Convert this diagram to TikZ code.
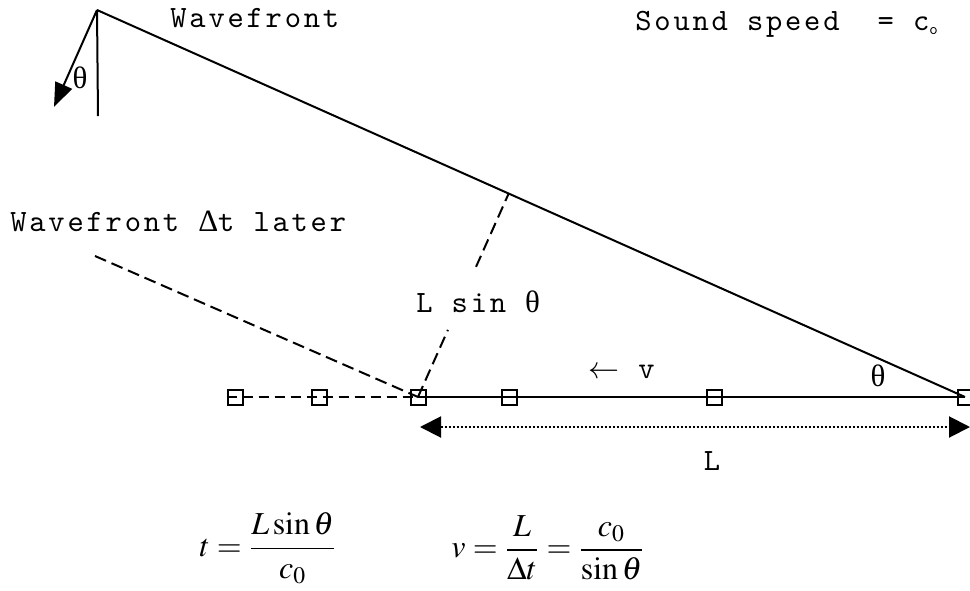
\documentclass[tikz,border=0pt]{standalone}
\usepackage{mathptmx}
\usepackage{fontspec}
\usetikzlibrary{arrows.meta,calc,positioning}
\newfontfamily\monofont[LetterSpace=9]{lmmono10-regular.otf}
\newfontfamily\seriffont{Liberation Serif}

\begin{document}
\begin{tikzpicture}[
    x=0.5pt,y=-0.5pt,
    every node/.style={inner sep=0pt},
    txt/.style={font=\monofont\fontsize{15.5}{18}\selectfont},
    greek/.style={font=\seriffont\fontsize{15.5}{18}\selectfont},
    formula/.style={font=\fontsize{16}{19}\selectfont},
    sensor/.style={
        draw=black,
        line width=1pt,
        minimum size=7.5pt
    },
    hidden/.style={sensor,fill=white},
    wave/.style={line width=1pt},
    later/.style={line width=1pt,dash pattern=on 6pt off 3pt},
    arrow/.style={-{Triangle[length=12pt,width=9pt]},line width=1pt},
    dimension/.style={{Triangle[length=10.5pt,width=10.5pt]}-{Triangle[length=10.5pt,width=10.5pt]},
        line width=1pt,dash pattern=on 1pt off 1pt}
]
\useasboundingbox (0,0) rectangle (970,590);

% Wavefront corner
\coordinate (top) at (97,10);
\coordinate (plumb) at (98,116);
\coordinate (dir) at (54,107);
\coordinate (later) at (95,256);

% Sensor array
\node[sensor] (s1) at (235,397) {};
\node[hidden] (s2) at (319,397) {};
\node[sensor] (s3) at (418,397) {};
\node[hidden] (s4) at (509,397) {};
\node[hidden] (s5) at (714,397) {};
\node[sensor] (s6) at (965,397) {};

\coordinate (foot) at ($(top)!(s3.center)!(s6.center)$);
\coordinate (dimL) at (420,427);
\coordinate (dimR) at (970,427);

% Lines
\draw[wave] (top) -- (s6.center);
\draw[wave] (top) -- (plumb);
\draw[arrow] (top) -- (dir);
\draw[later] (later) -- (s3.center);
\draw[later] (s3.center) -- ($(s3.center)!0.33!(foot)$);
\draw[later] ($(s3.center)!0.64!(foot)$) -- (foot);
\draw[later,dash pattern=on 5pt off 3pt] (s1.west) -- (s3.center);
\draw[wave] (s3.center) -- (s6.center);
\draw[dimension] (dimL) -- (dimR);

% Labels
\node[txt,anchor=base west] (wf) at (170,27) {Wavefront};
\node[txt,anchor=base west] (speed) at (635,30)
{Sound speed\ \ = c\raisebox{-0.35ex}{\fontsize{8}{9}\selectfont o}};
\node[txt,anchor=base west] (wflater) at (10,231) {Wavefront {\seriffont\fontsize{15.5}{18}\selectfont Δ}t later};
\node[txt,anchor=base west] (lsin) at (416,312) {L sin {\seriffont\fontsize{15.5}{18}\selectfont θ}};
\node[txt,anchor=base] (len) at (712,470) {L};
\node[txt,anchor=base west] (vel) at (588,378) {$\leftarrow$ v};
\node[greek] (th1) at (80,78) {θ};
\node[greek] (th2) at (878,376) {θ};

% Relations
\node[formula] (eqt) at (268,548) {$\displaystyle t=\frac{L\sin\theta}{c_0}$};
\node[formula] (eqv) at (548,548) {$\displaystyle v=\frac{L}{\Delta t}=\frac{c_0}{\sin\theta}$};

\end{tikzpicture}
\end{document}
